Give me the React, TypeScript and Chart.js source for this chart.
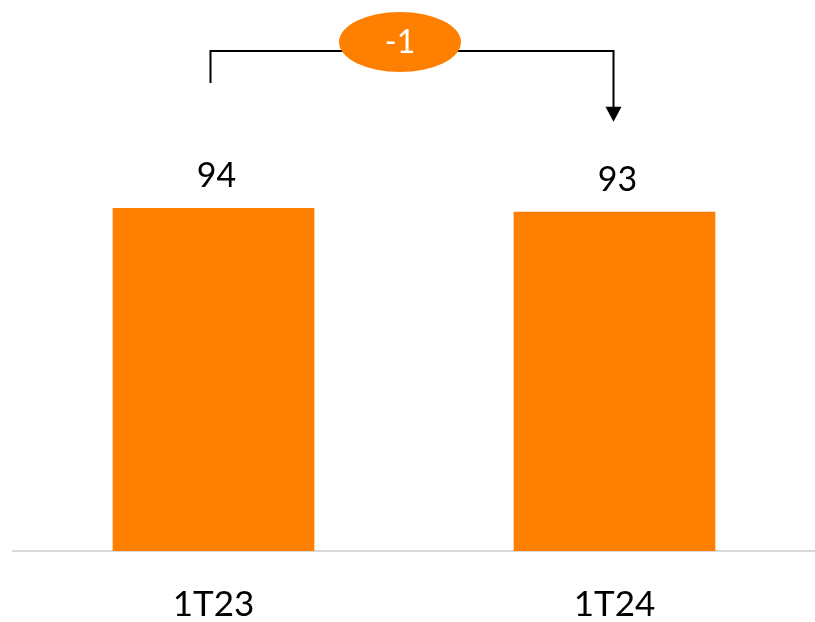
import React, { useEffect, useRef } from "react";
import { Chart, registerables } from "chart.js";

Chart.register(...registerables);

const categories = ["1T23", "1T24"];
const values = [94, 93];
const barColor = "#FF8000";
const FONT = "Lato, 'Liberation Sans', sans-serif";

const valueLabels = {
  id: "valueLabels",
  afterDatasetsDraw(chart: any) {
    const ctx = chart.ctx;
    const meta = chart.getDatasetMeta(0);
    ctx.save();
    ctx.font = `34px ${FONT}`;
    ctx.fillStyle = "#000";
    ctx.textAlign = "center";
    ctx.textBaseline = "alphabetic";
    meta.data.forEach((bar: any, i: number) => {
      ctx.fillText(String(values[i]), bar.x + 3, bar.y - 21);
    });
    ctx.restore();
  },
};

const bracket = {
  id: "bracket",
  afterDatasetsDraw(chart: any) {
    const ctx = chart.ctx;
    const meta = chart.getDatasetMeta(0);
    const a = meta.data[0];
    const b = meta.data[1];
    const x1 = a.x - 3;
    const x2 = b.x - 1;
    const top = Math.min(a.y, b.y) - 157;
    const y1 = a.y - 125;
    const tip = b.y - 90;
    ctx.save();
    ctx.strokeStyle = "#000";
    ctx.lineWidth = 2;
    ctx.beginPath();
    ctx.moveTo(x1, y1);
    ctx.lineTo(x1, top);
    ctx.lineTo(x2, top);
    ctx.lineTo(x2, tip - 14);
    ctx.stroke();
    ctx.fillStyle = "#000";
    ctx.beginPath();
    ctx.moveTo(x2 - 8, tip - 15);
    ctx.lineTo(x2 + 8, tip - 15);
    ctx.lineTo(x2, tip);
    ctx.closePath();
    ctx.fill();
    const cx = (x1 + x2) / 2 - 12;
    const cy = top - 9;
    ctx.fillStyle = barColor;
    ctx.beginPath();
    ctx.ellipse(cx, cy, 61, 30, 0, 0, Math.PI * 2);
    ctx.fill();
    const diff = values[1] - values[0];
    ctx.fillStyle = "#fff";
    ctx.font = `32px ${FONT}`;
    ctx.textAlign = "center";
    ctx.textBaseline = "middle";
    ctx.fillText(diff > 0 ? `+${diff}` : String(diff), cx, cy + 1);
    ctx.restore();
  },
};

export default function App() {
  const ref = useRef<HTMLCanvasElement>(null);
  useEffect(() => {
    if (!ref.current) return;
    const chart = new Chart(ref.current, {
      type: "bar",
      data: {
        labels: categories,
        datasets: [
          {
            data: values,
            backgroundColor: barColor,
            categoryPercentage: 1,
            barPercentage: 0.503,
          },
        ],
      },
      options: {
        animation: false,
        responsive: false,
        maintainAspectRatio: false,
        layout: { padding: { left: 13, right: 0, top: 0, bottom: 0 } },
        plugins: { legend: { display: false }, tooltip: { enabled: false } },
        scales: {
          y: { display: false, min: 0, max: 151 },
          x: {
            grid: { display: false, drawTicks: false },
            border: { display: true, color: "#d9d9d9", width: 2 },
            ticks: {
              color: "#000",
              font: { family: FONT, size: 35 },
              padding: 33,
            },
            afterFit(scale: any) {
              scale.height = 71;
            },
          },
        },
      },
      plugins: [valueLabels, bracket],
    });
    return () => chart.destroy();
  }, []);
  return (
    <div style={{ position: "absolute", left: 0, top: 0, width: 815, height: 622, background: "#fff" }}>
      <canvas ref={ref} width={815} height={622} style={{ width: 815, height: 622 }} />
    </div>
  );
}
